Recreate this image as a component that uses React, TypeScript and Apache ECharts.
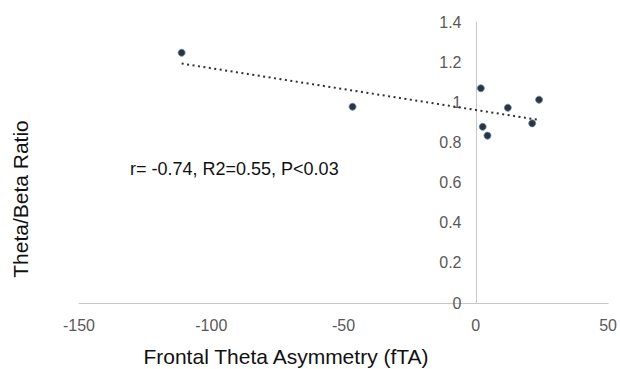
import React, { useEffect, useRef } from "react";
import * as echarts from "echarts";

const ftaValues = [-111.2, -46.6, 1.9, 2.6, 4.4, 12.1, 21.3, 23.9];
const ratioValues = [1.247, 0.978, 1.07, 0.878, 0.834, 0.973, 0.895, 1.013];
const trendX = [-111.2, 23.9];
const trendY = [1.193, 0.912];
const xTitle = "Frontal Theta Asymmetry (fTA)";
const yTitle = "Theta/Beta Ratio";
const statsText = "r= -0.74, R2=0.55, P<0.03";

const X_MIN = -150;
const X_MAX = 50;
const GRID_LEFT = 79;
const GRID_RIGHT = 11;
const WIDTH = 620;

export default function App() {
  const ref = useRef<HTMLDivElement>(null);
  useEffect(() => {
    if (!ref.current) return;
    const chart = echarts.init(ref.current, null, { renderer: "svg" });
    const font = "Arial, 'Liberation Sans', sans-serif";
    const plotW = WIDTH - GRID_LEFT - GRID_RIGHT;
    const zeroOffset = ((0 - X_MIN) / (X_MAX - X_MIN)) * plotW;
    chart.setOption({
      animation: false,
      backgroundColor: "#ffffff",
      grid: { left: GRID_LEFT, right: GRID_RIGHT, top: 22, bottom: 66, containLabel: false },
      xAxis: {
        type: "value",
        min: X_MIN,
        max: X_MAX,
        interval: 50,
        axisLine: { show: true, onZero: false, lineStyle: { color: "#c8c8c8", width: 1 } },
        axisTick: { show: false },
        splitLine: { show: false },
        axisLabel: { color: "#595959", fontSize: 16, fontFamily: font, margin: 14 },
      },
      yAxis: {
        type: "value",
        min: 0,
        max: 1.4,
        interval: 0.2,
        position: "left",
        offset: -zeroOffset,
        axisLine: { show: true, onZero: false, lineStyle: { color: "#c8c8c8", width: 1 } },
        axisTick: { show: false },
        splitLine: { show: false },
        axisLabel: { color: "#595959", fontSize: 16, fontFamily: font, margin: 15 },
      },
      series: [
        {
          type: "line",
          data: trendX.map((x, i) => [x, trendY[i]]),
          symbol: "none",
          lineStyle: { color: "#303030", width: 2, type: [2, 3.5] },
          z: 1,
        },
        {
          type: "scatter",
          data: ftaValues.map((x, i) => [x, ratioValues[i]]),
          symbol: "circle",
          symbolSize: 7,
          itemStyle: { color: "#000000", borderColor: "#4a86cf", borderWidth: 1 },
          z: 3,
        },
      ],
      graphic: [
        {
          type: "text",
          x: 286,
          y: 356,
          style: {
            text: xTitle,
            fill: "#111",
            fontSize: 21,
            fontFamily: font,
            textAlign: "center",
            textVerticalAlign: "middle",
          },
        },
        {
          type: "text",
          x: 20,
          y: 199,
          rotation: Math.PI / 2,
          style: {
            text: yTitle,
            fill: "#111",
            fontSize: 21,
            fontFamily: font,
            textAlign: "center",
            textVerticalAlign: "middle",
          },
        },
        {
          type: "text",
          x: 130,
          y: 169,
          style: {
            text: statsText,
            fill: "#111",
            fontSize: 18,
            fontFamily: font,
            textAlign: "left",
            textVerticalAlign: "middle",
          },
        },
      ],
    });
    return () => chart.dispose();
  }, []);
  return (
    <div
      ref={ref}
      style={{ position: "fixed", left: 0, top: 0, width: 620, height: 369 }}
    />
  );
}
